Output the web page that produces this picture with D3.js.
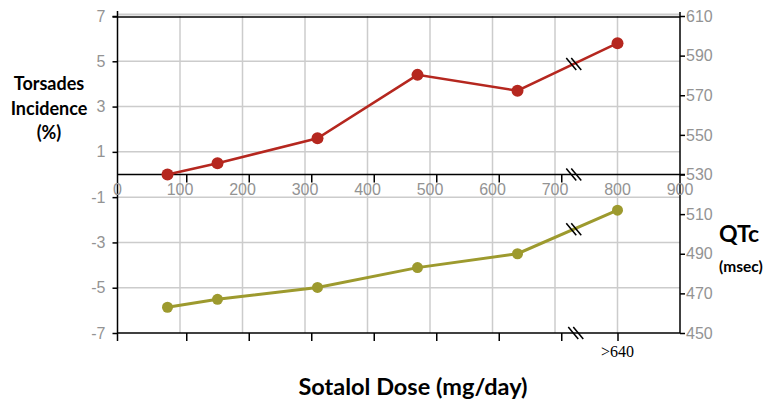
<!DOCTYPE html>
<html>
<head>
<meta charset="utf-8">
<script src="https://cdn.jsdelivr.net/npm/d3@7"></script>
<style>
  body { margin: 0; background: #fff; }
</style>
</head>
<body>
<div id="chart"></div>
<script>
// dose positions on the 0-900 grid (last one is the ">640" group)
const doses = [80, 160, 320, 480, 640, 800];
const torsades = [0, 0.5, 1.6, 4.4, 3.7, 5.8];
const qtc = [463, 467, 473, 483, 490, 512];

const gridX = [0, 100, 200, 300, 400, 500, 600, 700, 800, 900];
const leftTicks = [7, 5, 3, 1, -1, -3, -5, -7];
const rightTicks = [610, 590, 570, 550, 530, 510, 490, 470, 450];
const doseTicks = [110, 210, 310, 410, 510, 610, 710];
const breakDose = 730;

const width = 764;
const height = 403;

const svg = d3
  .select("#chart")
  .append("svg")
  .attr("width", width)
  .attr("height", height);

const x = d3.scaleLinear().domain([0, 900]).range([117.5, 680]);
const yL = d3.scaleLinear().domain([-7, 7]).range([333, 16]);
const yR = d3.scaleLinear().domain([450, 610]).range([333, 16]);

const gray = "#939393";
const red = "#b5271f";
const olive = "#9d9a2e";
const tickFont = "Liberation Sans, Arial, sans-serif";

// grid
svg
  .selectAll(".vgrid")
  .data(gridX.filter(d => d > 0 && d < 900))
  .enter()
  .append("line")
  .attr("x1", d => x(d))
  .attr("x2", d => x(d))
  .attr("y1", yL(7))
  .attr("y2", yL(-7))
  .attr("stroke", "#cccccc")
  .attr("stroke-width", 1.5);

svg
  .selectAll(".hgrid")
  .data(leftTicks.filter(d => Math.abs(d) < 7))
  .enter()
  .append("line")
  .attr("x1", x(0))
  .attr("x2", x(900))
  .attr("y1", d => yL(d))
  .attr("y2", d => yL(d))
  .attr("stroke", "#cccccc")
  .attr("stroke-width", 1.5);

svg
  .append("line")
  .attr("x1", x(0))
  .attr("x2", x(900))
  .attr("y1", yL(7) - 1.5)
  .attr("y2", yL(7) - 1.5)
  .attr("stroke", "#cccccc")
  .attr("stroke-width", 2);

// frame lines
function hline(y0, x0, x1) {
  svg
    .append("line")
    .attr("x1", x0)
    .attr("x2", x1)
    .attr("y1", y0)
    .attr("y2", y0)
    .attr("stroke", "#000")
    .attr("stroke-width", 1.5);
}
hline(yL(7) + 1, x(0) - 5, x(900));
hline(yL(0), x(0), x(900) + 5);
hline(yL(-7), x(0), x(900));

// left axis
svg
  .append("g")
  .attr("transform", "translate(" + x(0) + ",0)")
  .call(
    d3
      .axisLeft(yL)
      .tickValues(leftTicks)
      .tickSize(5)
      .tickPadding(7)
      .tickFormat(d => String(d))
  )
  .call(g => g.select(".domain").remove())
  .call(g => g.selectAll("line").attr("stroke", "#000").attr("stroke-width", 1.5))
  .call(g =>
    g
      .selectAll("text")
      .attr("fill", gray)
      .style("font-family", tickFont)
      .style("font-size", "16px")
  );

svg
  .append("line")
  .attr("x1", x(0))
  .attr("x2", x(0))
  .attr("y1", 11)
  .attr("y2", yL(-7) + 8)
  .attr("stroke", "#000")
  .attr("stroke-width", 1.5);

// right axis
svg
  .append("g")
  .attr("transform", "translate(" + x(900) + ",0)")
  .call(d3.axisRight(yR).tickValues(rightTicks).tickSize(5).tickPadding(1))
  .call(g => g.select(".domain").remove())
  .call(g => g.selectAll("line").attr("stroke", "#000").attr("stroke-width", 1.5))
  .call(g =>
    g
      .selectAll("text")
      .attr("fill", gray)
      .style("font-family", tickFont)
      .style("font-size", "16px")
  );

svg
  .append("line")
  .attr("x1", x(900))
  .attr("x2", x(900))
  .attr("y1", 12)
  .attr("y2", yL(-7))
  .attr("stroke", "#000")
  .attr("stroke-width", 1.5);

// 0-900 labels under the upper x axis
svg
  .selectAll(".xlab")
  .data(gridX)
  .enter()
  .append("text")
  .attr("x", d => x(d))
  .attr("y", yL(0) + 20)
  .attr("text-anchor", "middle")
  .attr("fill", gray)
  .style("font-family", tickFont)
  .style("font-size", "16px")
  .text(d => d);

// dose ticks on both x axes
svg
  .append("g")
  .attr("transform", "translate(0," + yL(0) + ")")
  .call(d3.axisBottom(x).tickValues(doseTicks).tickSize(8).tickFormat(""))
  .call(g => g.select(".domain").remove())
  .call(g => g.selectAll("line").attr("stroke", "#000").attr("stroke-width", 1.5));

svg
  .append("g")
  .attr("transform", "translate(0," + yL(-7) + ")")
  .call(d3.axisBottom(x).tickValues(doseTicks.concat([800])).tickSize(8).tickFormat(""))
  .call(g => g.select(".domain").remove())
  .call(g => g.selectAll("line").attr("stroke", "#000").attr("stroke-width", 1.5));

svg
  .append("text")
  .attr("x", x(800))
  .attr("y", yL(-7) + 24)
  .attr("text-anchor", "middle")
  .attr("fill", "#000")
  .style("font-family", "Liberation Serif, Times New Roman, serif")
  .style("font-size", "16px")
  .text(">640");

// series
const torsData = doses.map((d, i) => ({ dose: d, v: torsades[i] }));
const qtcData = doses.map((d, i) => ({ dose: d, v: qtc[i] }));

function drawSeries(data, yScale, color, r, w) {
  const line = d3
    .line()
    .x(d => x(d.dose))
    .y(d => yScale(d.v));

  svg
    .append("path")
    .datum(data)
    .attr("d", line)
    .attr("fill", "none")
    .attr("stroke", color)
    .attr("stroke-width", w);

  svg
    .selectAll(null)
    .data(data)
    .enter()
    .append("circle")
    .attr("cx", d => x(d.dose))
    .attr("cy", d => yScale(d.v))
    .attr("r", r)
    .attr("fill", color);
}
drawSeries(torsData, yL, red, 6, 2.5);
drawSeries(qtcData, yR, olive, 5.5, 3);

// break marks "\\"
function breakMark(cx, cy) {
  [-2.5, 2.5].forEach(function(o) {
    svg
      .append("line")
      .attr("x1", cx + o - 5)
      .attr("y1", cy - 6)
      .attr("x2", cx + o + 5)
      .attr("y2", cy + 6)
      .attr("stroke", "#000")
      .attr("stroke-width", 1.5);
  });
}
const t = (breakDose - 640) / (800 - 640);
breakMark(x(breakDose), yL(torsades[4] + t * (torsades[5] - torsades[4])));
breakMark(x(breakDose), yR(qtc[4] + t * (qtc[5] - qtc[4])));
breakMark(x(breakDose), yL(0));
breakMark(x(breakDose) + 2, yL(-7));

// titles
const titleFont = "Lato, Open Sans, sans-serif";
svg
  .append("text")
  .attr("x", 49)
  .attr("text-anchor", "middle")
  .style("font-family", titleFont)
  .style("font-weight", "bold")
  .style("font-size", "18px")
  .selectAll("tspan")
  .data(["Torsades", "Incidence", "(%)"])
  .enter()
  .append("tspan")
  .attr("x", 49)
  .attr("y", (d, i) => 90 + i * 24.5)
  .text(d => d);

svg
  .append("text")
  .attr("x", 719)
  .attr("y", 242)
  .style("font-family", titleFont)
  .style("font-weight", "bold")
  .style("font-size", "23px")
  .text("QTc");

svg
  .append("text")
  .attr("x", 719)
  .attr("y", 272)
  .style("font-family", titleFont)
  .style("font-weight", "bold")
  .style("font-size", "15.5px")
  .text("(msec)");

svg
  .append("text")
  .attr("x", 413)
  .attr("y", 395)
  .attr("text-anchor", "middle")
  .style("font-family", titleFont)
  .style("font-weight", "bold")
  .style("font-size", "23.5px")
  .text("Sotalol Dose (mg/day)");
</script>
</body>
</html>
